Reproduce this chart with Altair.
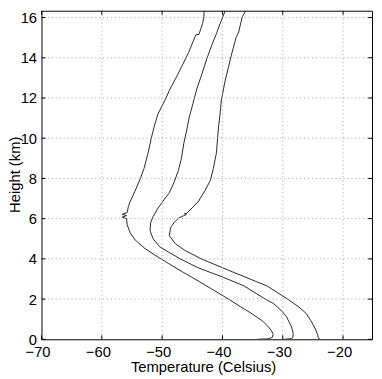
import altair as alt
import pandas as pd

# Curve 1 (coldest)
c1_temp = [-34.3, -32.5, -31.7, -31.6, -31.9, -32.5, -33.3, -35.0, -37.0, -39.0, -41.5, -44.0,
           -46.5, -49.0, -51.0, -53.0, -54.5, -55.3, -55.8, -55.9, -56.6, -55.9, -56.6, -55.8,
           -55.6, -55.3, -54.5, -53.6, -53.0, -52.3, -51.8, -51.3, -50.7, -49.6, -48.6, -47.7,
           -46.7, -45.6, -44.4, -43.9, -43.3, -43.1, -43.0]
c1_height = [0.0, 0.02, 0.1, 0.25, 0.45, 0.65, 0.9, 1.25, 1.62, 2.0, 2.45, 2.9,
             3.33, 3.78, 4.15, 4.55, 4.95, 5.3, 5.7, 6.0, 6.08, 6.15, 6.22, 6.3,
             6.6, 6.85, 7.37, 8.0, 8.5, 9.3, 10.0, 10.6, 11.2, 11.85, 12.5, 13.0,
             13.6, 14.27, 15.15, 15.16, 15.7, 16.0, 16.4]

# Curve 2 (middle)
c2_temp = [-29.8, -28.6, -28.3, -28.3, -28.6, -29.4, -30.3, -31.5, -32.9, -36.4, -40.0, -43.9,
           -47.0, -49.0, -50.4, -51.5, -52.0, -51.9, -51.5, -50.7, -49.9, -48.8, -48.0, -47.3,
           -46.8, -46.4, -46.0, -45.5, -45.0, -44.2, -43.4, -42.6, -41.8, -41.0, -40.4, -39.9, -39.5]
c2_height = [0.0, 0.03, 0.1, 0.35, 0.65, 1.14, 1.45, 1.77, 2.0, 2.65, 3.1, 3.54,
             4.0, 4.35, 4.6, 5.0, 5.4, 5.8, 6.1, 6.52, 6.85, 7.3, 7.82, 8.4,
             9.0, 9.75, 10.3, 11.05, 11.6, 12.5, 13.2, 13.95, 14.6, 15.2, 15.7, 16.05, 16.4]

# Curve 3 (warmest)
c3_temp = [-23.8, -24.1, -24.2, -24.5, -24.8, -25.4, -26.1, -27.3, -29.2, -32.6, -39.2, -43.5,
           -46.1, -47.8, -48.8, -48.6, -47.9, -47.2, -46.4, -46.0, -46.3, -45.9, -44.0, -42.9,
           -42.0, -41.5, -41.0, -40.7, -40.4, -40.2, -39.6, -38.55, -37.75, -37.5, -37.3, -36.7, -36.0]
c3_height = [0.0, 0.05, 0.2, 0.45, 0.64, 0.95, 1.28, 1.6, 2.0, 2.65, 3.46, 4.0,
             4.4, 4.75, 5.15, 5.56, 5.85, 6.04, 6.15, 6.2, 6.24, 6.27, 6.85, 7.4,
             7.9, 8.5, 9.27, 10.4, 11.2, 11.85, 12.8, 14.1, 15.0, 15.15, 15.3, 16.05, 16.4]

x_ticks = [-70, -60, -50, -40, -30, -20]
y_ticks = [0, 2, 4, 6, 8, 10, 12, 14, 16]
x_grid = [-60, -50, -40, -30, -20]
y_grid = [2, 4, 6, 8, 10, 12, 14, 16]

rows = []
for name, xs, ys in [("c1", c1_temp, c1_height), ("c2", c2_temp, c2_height), ("c3", c3_temp, c3_height)]:
    for i, (x, y) in enumerate(zip(xs, ys)):
        rows.append({"curve": name, "idx": i, "temp": x, "height": y})
df = pd.DataFrame(rows)

W, H = 335.5, 333.5
FONT = "Liberation Sans"
xs_ = alt.Scale(domain=[-70, -15.2], nice=False, zero=False)
ys_ = alt.Scale(domain=[0, 16.34], nice=False, zero=False)

x_axis = alt.Axis(values=x_ticks, title="Temperature (Celsius)", grid=False, ticks=False, tickSize=0,
                  domain=False, labelFont=FONT, labelFontSize=15, labelColor="black",
                  labelBaseline="alphabetic", labelPadding=17.5, labelOffset=-4, labelFlush=False,
                  labelOverlap=False, titleFont=FONT, titleFontSize=15, titleFontWeight="normal",
                  titleColor="black", titleX=164, titleY=32.5, titleBaseline="alphabetic",
                  titleAlign="center")
y_axis = alt.Axis(values=y_ticks, title="Height (km)", grid=False, ticks=False, tickSize=0,
                  domain=False, labelFont=FONT, labelFontSize=15, labelColor="black",
                  labelBaseline="middle", labelAlign="right", labelPadding=5, labelFlush=False,
                  labelOverlap=False, titleFont=FONT, titleFontSize=15, titleFontWeight="normal",
                  titleColor="black", titleX=-27.5, titleY=166, titleAngle=270,
                  titleBaseline="middle", titleAlign="center")

gx = pd.DataFrame({"v": x_grid})
gy = pd.DataFrame({"v": y_grid})
tx = pd.DataFrame({"v": x_ticks})
ty = pd.DataFrame({"v": y_ticks})

X = lambda f: alt.X(f, scale=xs_, axis=x_axis)
Y = lambda f: alt.Y(f, scale=ys_, axis=y_axis)

grid_style = dict(color="#a0a0a0", strokeDash=[1, 3], strokeWidth=1)
gridx = alt.Chart(gx).mark_rule(**grid_style).encode(x=X("v:Q"))
gridy = alt.Chart(gy).mark_rule(**grid_style).encode(y=Y("v:Q"))

tick_style = dict(color="black", strokeWidth=1)
tb = alt.Chart(tx).mark_rule(**tick_style).encode(x=X("v:Q"), y=alt.value(H), y2=alt.value(H - 4))
tt = alt.Chart(tx).mark_rule(**tick_style).encode(x=X("v:Q"), y=alt.value(0), y2=alt.value(4))
tl = alt.Chart(ty).mark_rule(**tick_style).encode(y=Y("v:Q"), x=alt.value(0), x2=alt.value(4))
tr = alt.Chart(ty).mark_rule(**tick_style).encode(y=Y("v:Q"), x=alt.value(W), x2=alt.value(W - 4))

lines = alt.Chart(df).mark_line(color="#2a2a2a", strokeWidth=1, clip=True).encode(
    x=X("temp:Q"),
    y=Y("height:Q"),
    detail="curve:N",
    order="idx:Q",
)

chart = alt.layer(lines, gridx, gridy, tb, tt, tl, tr).properties(
    width=W, height=H,
    autosize=alt.AutoSizeParams(type="none"),
    padding={"left": 34, "top": 0, "right": 2, "bottom": 36},
    background="white",
).configure_view(stroke="black", strokeWidth=1)

chart.save("out.html", embed_options={"renderer": "svg", "actions": False})
